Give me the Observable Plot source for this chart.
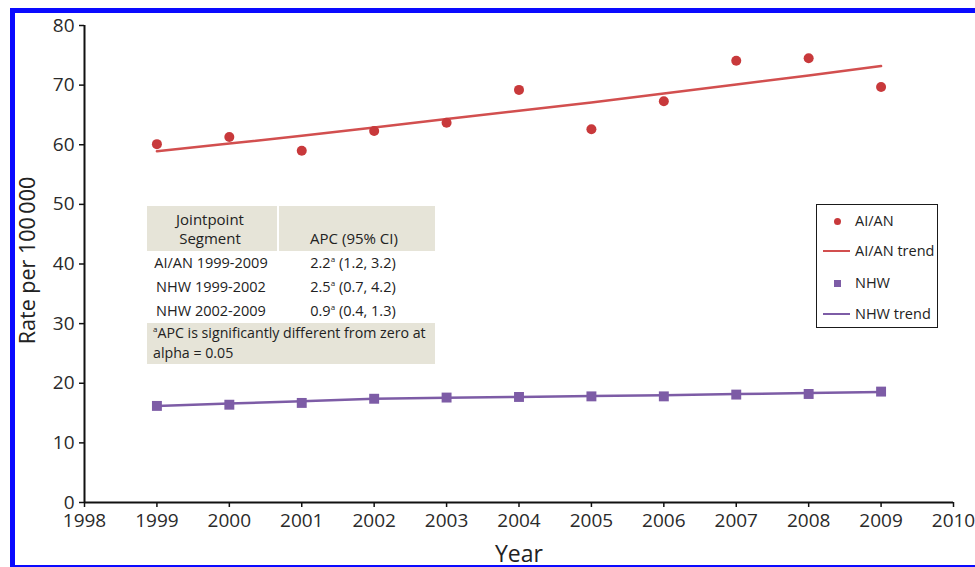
<!DOCTYPE html>
<html><head><meta charset="utf-8">
<script src="https://cdn.jsdelivr.net/npm/d3@7"></script>
<script src="https://cdn.jsdelivr.net/npm/@observablehq/plot@0.6"></script>
<style>
body{margin:0;background:#fff;}
#wrap{position:relative;width:975px;height:567px;overflow:hidden;background:#fff;font-family:"Open Sans",sans-serif;color:#222;}
#frame{position:absolute;left:10px;top:8px;width:1000px;height:552px;border:5px solid #0a0aff;pointer-events:none;}
.t{position:absolute;white-space:nowrap;transform:translate(-50%,-50%);line-height:1;}
.tl{position:absolute;white-space:nowrap;transform:translate(0,-50%);line-height:1;}
.box{position:absolute;background:#e6e4d8;}
sup{font-size:8px;vertical-align:top;position:relative;top:-1px;}
</style></head><body><div id="wrap"><div id="frame"></div></div>
<script>
// ---- data ----
const years = [1999, 2000, 2001, 2002, 2003, 2004, 2005, 2006, 2007, 2008, 2009];
const aianRate  = [60.1, 61.3, 59.0, 62.3, 63.7, 69.2, 62.6, 67.3, 74.1, 74.5, 69.7];
const aianTrend = [58.9, 60.2, 61.5, 62.9, 64.3, 65.7, 67.1, 68.6, 70.1, 71.6, 73.2];
const nhwRate   = [16.2, 16.4, 16.7, 17.4, 17.6, 17.7, 17.8, 17.8, 18.1, 18.2, 18.6];
const nhwTrend  = [16.2, 16.6, 17.0, 17.4, 17.55, 17.7, 17.85, 18.0, 18.2, 18.35, 18.55];
const xTicks = [1998, 1999, 2000, 2001, 2002, 2003, 2004, 2005, 2006, 2007, 2008, 2009, 2010];
const yTicks = [0, 10, 20, 30, 40, 50, 60, 70, 80];
const tableSegments = ["AI/AN 1999-2009", "NHW 1999-2002", "NHW 2002-2009"];
const tableAPC = ["2.2", "2.5", "0.9"];
const tableCI = ["(1.2, 3.2)", "(0.7, 4.2)", "(0.4, 1.3)"];
const legendLabels = ["AI/AN", "AI/AN trend", "NHW", "NHW trend"];

const RED = "#c8393b", RED_LINE = "#d24f4f", PURPLE = "#7d5ca6";

const aian = years.map((y, i) => ({year: y, rate: aianRate[i], trend: aianTrend[i]}));
const nhw = years.map((y, i) => ({year: y, rate: nhwRate[i], trend: nhwTrend[i]}));

const chart = Plot.plot({
  width: 975, height: 567,
  marginLeft: 84, marginRight: 22, marginTop: 25, marginBottom: 65,
  style: {fontFamily: "Open Sans", fontSize: "19px", color: "#2a2a2a", background: "transparent"},
  x: {domain: [1998, 2010]},
  y: {domain: [0, 80]},
  marks: [
    Plot.axisY({ticks: yTicks, tickSize: 5, tickPadding: 5, label: null, tickFormat: d => String(d), strokeWidth: 1.5, stroke: "#111"}),
    Plot.axisX({ticks: xTicks, tickSize: 5, tickPadding: 6, label: null, tickFormat: d => String(d), strokeWidth: 1.5, stroke: "#111"}),
    Plot.ruleX([1998], {stroke: "#111", strokeWidth: 2}),
    Plot.ruleY([0], {stroke: "#111", strokeWidth: 2}),
    Plot.line(aian, {x: "year", y: "trend", stroke: RED_LINE, strokeWidth: 2.5}),
    Plot.dot(aian, {x: "year", y: "rate", r: 5, fill: RED, stroke: "none"}),
    Plot.line(nhw, {x: "year", y: "trend", stroke: PURPLE, strokeWidth: 2.5}),
    Plot.dot(nhw, {x: "year", y: "rate", r: 5.6, symbol: "square", fill: PURPLE, stroke: "none"}),
    Plot.text(["Year"], {frameAnchor: "bottom", dy: 59, lineAnchor: "bottom", fontSize: 23, fill: "#222"}),
    Plot.text(["Rate per 100\u2009000"], {frameAnchor: "left", rotate: -90, textAnchor: "middle", dx: -56, dy: -3.5, fontSize: 21.5, fill: "#222"})
  ]
});
const wrap = document.getElementById("wrap");
chart.style.position = "absolute";
chart.style.left = "0px";
chart.style.top = "0px";
wrap.insertBefore(chart, wrap.firstChild);

function el(cls, html, x, y, extra) {
  const d = document.createElement("div");
  d.className = cls;
  d.innerHTML = html;
  d.style.left = x + "px";
  d.style.top = y + "px";
  if (extra) Object.assign(d.style, extra);
  wrap.appendChild(d);
  return d;
}
// ---- APC table ----
el("box", "", 147, 206, {width: "130px", height: "45px"});
el("box", "", 279, 206, {width: "156px", height: "45px"});
el("box", "", 147, 323, {width: "288px", height: "41px"});
const fh = {fontSize: "15px"}, fr = {fontSize: "14.5px"}, ff = {fontSize: "14.2px"};
el("t", "Jointpoint", 210, 219, fh);
el("t", "Segment", 210, 238, fh);
el("t", "APC (95% CI)", 354, 238, fh);
const rowY = [263, 287, 311];
tableSegments.forEach((s, i) => {
  el("t", s, 211, rowY[i], fr);
  el("t", tableAPC[i] + "<sup>a</sup> " + tableCI[i], 353, rowY[i], fr);
});
el("tl", "<sup>a</sup>APC is significantly different from zero at", 153, 333, ff);
el("tl", "alpha = 0.05", 153, 353, ff);

// ---- legend ----
el("box", "", 816, 204, {width: "120px", height: "122px", background: "#fff", border: "1.5px solid #1a1a1a"});
const ly = [221, 251, 283, 314];
el("box", "", 834, ly[0] - 3.5, {width: "7px", height: "7px", borderRadius: "50%", background: RED});
el("box", "", 823, ly[1] - 1, {width: "27px", height: "2.2px", background: RED_LINE});
el("box", "", 834, ly[2] - 3.5, {width: "7px", height: "7px", background: PURPLE});
el("box", "", 823, ly[3] - 1, {width: "27px", height: "2.2px", background: PURPLE});
legendLabels.forEach((s, i) => el("tl", s, 855, ly[i], {fontSize: "14.5px"}));
</script></body></html>
